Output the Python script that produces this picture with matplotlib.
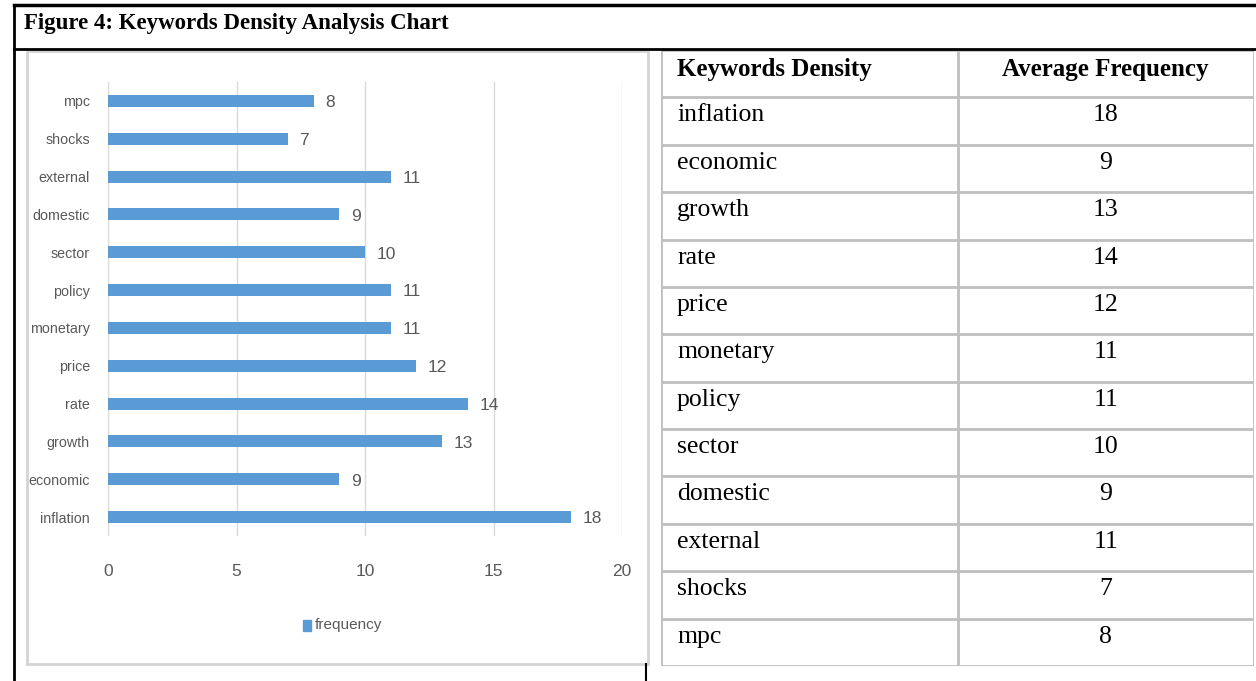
import matplotlib

matplotlib.use("Agg")

import matplotlib.pyplot as plt
from matplotlib.lines import Line2D
from matplotlib.patches import Rectangle

W, H = 1256, 681

keywords = ["inflation", "economic", "growth", "rate", "price", "monetary",
            "policy", "sector", "domestic", "external", "shocks", "mpc"]
frequency = [18, 9, 13, 14, 12, 11, 11, 10, 9, 11, 7, 8]
x_ticks = [0, 5, 10, 15, 20]
table_header = ["Keywords Density", "Average Frequency"]

BAR = "#5b9bd5"
GREY_TXT = "#595959"
SANS = ["Liberation Sans", "DejaVu Sans"]
SERIF = ["Liberation Serif", "DejaVu Serif"]


def fx(px):
    return px / W


def fy(py):
    return 1 - py / H


fig = plt.figure(figsize=(W / 100, H / 100), dpi=100)
fig.patch.set_facecolor("white")

# outer frame of the figure block
for xs, ys, lw in [((14, W), (5, 5), 2.5), ((14, W), (49, 49), 2.0),
                   ((14, 14), (5, H), 2.0), ((646, 646), (664, H), 1.5)]:
    fig.add_artist(Line2D([fx(xs[0]), fx(xs[1])], [fy(ys[0]), fy(ys[1])],
                          color="black", lw=lw, transform=fig.transFigure))

fig.text(fx(24), fy(23), "Figure 4: Keywords Density Analysis Chart",
         family=SERIF, fontsize=16.5, fontweight="bold", va="center", ha="left")

# chart frame
fig.add_artist(Rectangle((fx(27), fy(664)), fx(648) - fx(27), fy(51) - fy(664),
                         transform=fig.transFigure, fill=False,
                         edgecolor="#d4d4d4", lw=2))

# bar chart
ax = fig.add_axes([fx(108), fy(536), fx(622) - fx(108), fy(82) - fy(536)])
y = list(range(len(keywords)))
ax.barh(y, frequency, height=0.32, color=BAR, zorder=3)
ax.set_xlim(0, 20)
ax.set_ylim(-0.5, len(keywords) - 0.5)
ax.set_xticks(x_ticks)
ax.set_xticklabels([str(t) for t in x_ticks], family=SANS, fontsize=12.5,
                   color=GREY_TXT)
ax.set_yticks(y)
ax.set_yticklabels(keywords, family=SANS, fontsize=10.3, color=GREY_TXT)
ax.tick_params(axis="x", length=0, pad=20)
ax.tick_params(axis="y", length=0, pad=13)
ax.grid(axis="x", color="#d9d9d9", lw=1, zorder=0)
for s in ax.spines.values():
    s.set_visible(False)
for yi, v in zip(y, frequency):
    ax.text(v + 0.45, yi - 0.05, str(v), family=SANS, fontsize=12.5,
            color=GREY_TXT, va="center", ha="left")

# legend
fig.add_artist(Rectangle((fx(303), fy(631)), fx(8), 11 / H,
                         transform=fig.transFigure, color=BAR))
fig.text(fx(315), fy(625), "frequency", family=SANS, fontsize=11,
         color=GREY_TXT, va="center", ha="left")

# table
tx = fig.add_axes([fx(661), fy(666), fx(1254) - fx(661), fy(50) - fy(666)])
n_rows = len(keywords) + 1
tx.set_xlim(0, 1)
tx.set_ylim(n_rows, 0)
tx.axis("off")
tx.hlines(range(n_rows + 1), 0, 1, color="#bfbfbf", lw=2)
tx.vlines([0, 0.5, 1], 0, n_rows, color="#bfbfbf", lw=2)
tx.text(0.027, 0.42, table_header[0], family=SERIF, fontsize=18,
        fontweight="bold", va="center", ha="left")
tx.text(0.75, 0.42, table_header[1], family=SERIF, fontsize=18,
        fontweight="bold", va="center", ha="center")
for i, (k, v) in enumerate(zip(keywords, frequency), start=1):
    tx.text(0.027, i + 0.38, k, family=SERIF, fontsize=18.5, va="center", ha="left")
    tx.text(0.75, i + 0.38, str(v), family=SERIF, fontsize=18.5, va="center",
            ha="center")

fig.savefig("out.png", dpi=100, facecolor="white")
